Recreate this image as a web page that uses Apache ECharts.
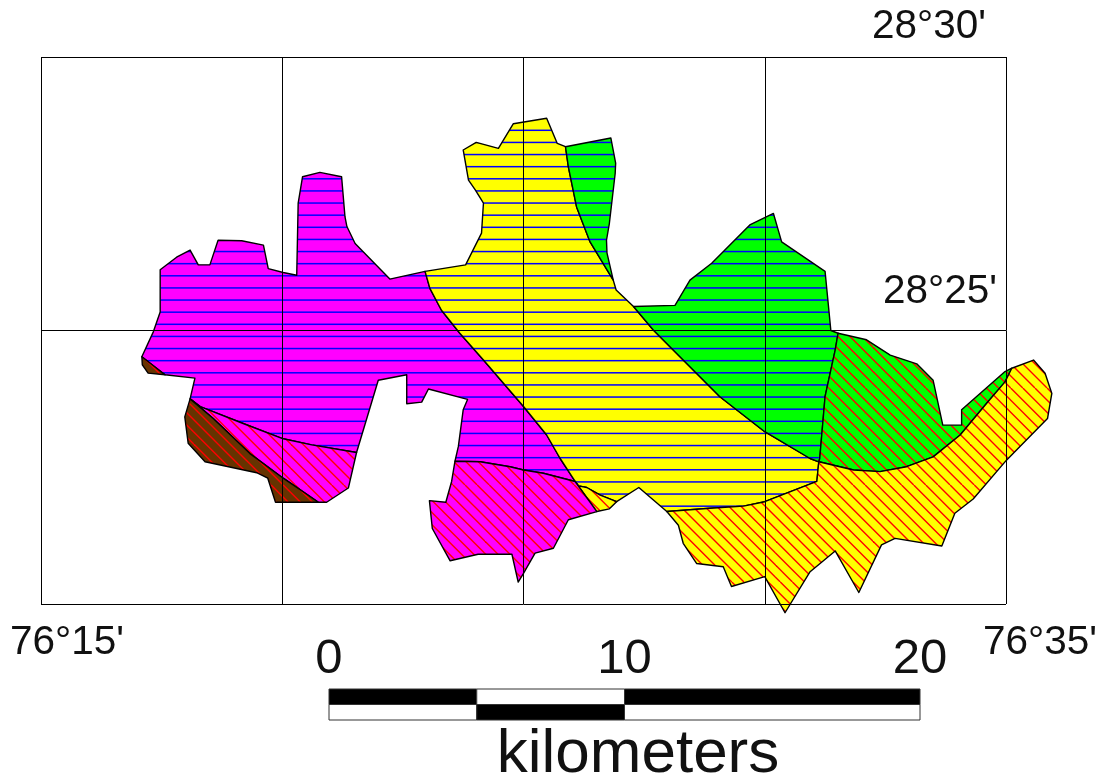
<!DOCTYPE html>
<html>
<head>
<meta charset="utf-8">
<style>html,body{margin:0;padding:0;background:#fff}#c{width:1102px;height:784px}</style>
<script src="https://cdn.jsdelivr.net/npm/echarts@6/dist/echarts.min.js"></script>
</head>
<body>
<div id="c"></div>
<script>
// All map vertices are [longitude minutes past 76 deg, latitude minutes past 28 deg].
const magentaNorth = [[17.09,24.52],[17.33,24.98],[17.47,25.34],[17.47,26.11],[17.81,26.34],[18.09,26.47],[18.26,26.20],[18.50,26.20],[18.67,26.65],[19.16,26.64],[19.61,26.56],[19.71,26.13],[20.02,26.06],[20.30,26.01],[20.33,27.33],[20.42,27.81],[20.78,27.89],[21.23,27.81],[21.30,27.08],[21.34,26.90],[21.51,26.59],[22.23,25.94]];
const magentaYellow = [[22.96,26.08],[23.06,25.77],[23.30,25.37],[23.68,24.95],[24.17,24.46],[25.00,23.61],[25.48,23.09],[25.76,22.66],[26.07,22.24]];
const magentaSouthBoundary = [[25.41,22.39],[25.00,22.45],[24.72,22.51],[24.10,22.60],[23.58,22.61]];
const magentaNotch = [[23.65,22.88],[23.75,23.55],[23.84,23.74],[23.03,23.93],[22.89,23.69],[22.58,23.66],[22.58,24.19],[21.99,24.09]];
const magentaWestBoundary = [[21.54,22.77],[20.61,22.91],[20.02,23.02],[19.19,23.30],[18.30,23.61],[18.09,23.75]];
const magentaWestEnd = [[18.19,24.13],[17.57,24.19]];
const brownSliver = [[17.09,24.52],[17.57,24.19],[17.22,24.22],[17.10,24.37]];
const brownDiagonal = [[18.09,23.75],[18.57,23.39],[19.33,22.75],[20.02,22.30],[20.75,21.86]];
const brownOuter = [[19.86,21.86],[19.70,22.30],[19.47,22.40],[18.40,22.60],[18.05,22.94],[17.98,23.42]];
const hatchWestOuter = [[21.37,22.12],[20.92,21.86]];
const hatchSouthOuter = [[26.52,21.69],[25.93,21.54],[25.62,21.02],[25.24,20.93],[25.00,20.56],[24.89,20.40],[24.76,20.91],[24.06,20.91],[23.48,20.79],[23.11,21.38],[23.05,21.89],[23.39,21.86],[23.51,22.24]];
const smallYellowTop = [[26.14,22.16],[26.31,22.13],[26.59,21.99],[26.93,21.87]];
const smallYellowBottom = [[26.78,21.74],[26.52,21.69]];
const yellowTop = [[23.80,26.20],[24.13,26.78],[24.17,27.33],[24.00,27.57],[23.86,27.75],[23.75,28.30],[24.02,28.44],[24.48,28.33],[24.79,28.78],[25.48,28.88],[25.70,28.42],[25.87,28.36]];
const yellowGreenNorth = [[25.93,27.99],[26.10,27.26],[26.38,26.62],[26.86,25.92]];
const yellowGreenEast = [[26.92,25.74],[27.28,25.44],[27.69,25.01],[28.31,24.46],[29.07,23.79],[30.00,23.15],[30.94,22.66],[31.12,22.60]];
const yellowSouth = [[31.08,22.24],[30.00,21.87],[29.56,21.79],[28.87,21.75],[27.97,21.69]];
const yellowGap = [[27.39,22.13]];
const greenNorthOuter = [[26.81,28.52],[26.91,28.06],[26.90,27.87],[26.78,26.96],[26.72,26.65],[26.73,26.42]];
const greenEastOuter = [[28.14,25.46],[28.45,25.92],[28.90,26.23],[29.69,26.93],[30.18,27.14],[30.35,26.62],[31.25,26.08],[31.37,25.00],[31.52,24.95]];
const greenBoundary = [[31.46,24.64],[31.25,23.79],[31.14,22.66]];
const greenHatchOuter = [[32.11,24.83],[32.60,24.55],[33.15,24.39],[33.49,24.09],[33.69,23.27],[34.08,23.27],[34.08,23.55],[34.98,24.25],[35.12,24.31]];
const greenHatchSouth = [[34.98,24.06],[34.60,23.67],[34.05,23.09],[33.49,22.69],[32.94,22.51],[32.39,22.42],[31.84,22.45]];
const goldOuter = [[35.57,24.46],[35.81,24.22],[35.95,23.85],[35.86,23.39],[35.01,22.63],[34.32,21.92],[33.94,21.66],[33.67,21.06],[32.70,21.20],[32.42,21.08],[31.95,20.21],[31.46,20.97],[30.94,20.59],[30.42,19.84],[30.00,20.50],[29.31,20.32],[29.14,20.68],[28.59,20.74],[28.31,21.11],[28.21,21.44]];

const rev = a => a.slice().reverse();
const last = a => a[a.length - 1];

const zones = [
  {name:'magenta lines', fill:'#ff00ff', hatch:'h', pts:[...magentaNorth,...magentaYellow,...magentaSouthBoundary,...magentaNotch,...magentaWestBoundary,...magentaWestEnd]},
  {name:'yellow lines', fill:'#ffff00', hatch:'h', pts:[magentaYellow[0],...yellowTop,...yellowGreenNorth,...yellowGreenEast,...yellowSouth,...yellowGap,last(smallYellowTop),...rev(smallYellowTop).slice(1),last(magentaYellow),...rev(magentaYellow).slice(1)]},
  {name:'green north', fill:'#00ff00', hatch:'h', pts:[last(yellowTop),...greenNorthOuter,...rev(yellowGreenNorth)]},
  {name:'green east', fill:'#00ff00', hatch:'h', pts:[yellowGreenEast[1],...greenEastOuter,...greenBoundary,...rev(yellowGreenEast).slice(0,-1)]},
  {name:'green hatch', fill:'#00ff00', hatch:'d', pts:[last(greenEastOuter),...greenHatchOuter,...greenHatchSouth,last(yellowGreenEast),...rev(greenBoundary)]},
  {name:'gold hatch', fill:'#ffff00', hatch:'d', pts:[last(greenHatchOuter),...goldOuter,...rev(yellowSouth),last(yellowGreenEast),...rev(greenHatchSouth)]},
  {name:'small yellow hatch', fill:'#ffff00', hatch:'d', pts:[last(magentaYellow),...smallYellowTop,...smallYellowBottom]},
  {name:'magenta hatch west', fill:'#ff00ff', hatch:'d', pts:[...rev(magentaWestBoundary),...hatchWestOuter,...rev(brownDiagonal)]},
  {name:'magenta hatch south', fill:'#ff00ff', hatch:'d', pts:[last(magentaYellow),...smallYellowBottom.slice(1),...hatchSouthOuter.slice(1),last(magentaSouthBoundary),...rev(magentaSouthBoundary).slice(1)]},
  {name:'brown hatch', fill:'#663300', hatch:'d', pts:[...brownDiagonal,...brownOuter]},
  {name:'brown sliver', fill:'#663300', hatch:'d', pts:brownSliver}
];

const latLabels = ["28°30'","28°25'"];
const lonLabels = ["76°15'","76°35'"];
const scaleTicks = ['0','10','20'];
const scaleUpper = [[0,5,'#000'],[5,10,'#fff'],[10,20,'#000']];
const scaleLower = [[0,5,'#fff'],[5,10,'#000'],[10,20,'#fff']];
const scaleUnit = 'kilometers';

const FONT = '"Liberation Sans", Arial, sans-serif';
const period = 12.125, linePhase = 9.05, diagPhase = 4.3, tileSize = 97;

function lineTile(bg){
  const c = document.createElement('canvas');
  c.width = 4; c.height = tileSize;
  const g = c.getContext('2d');
  g.fillStyle = bg; g.fillRect(0,0,c.width,c.height);
  g.strokeStyle = '#0000ff'; g.lineWidth = 1.5;
  for (let k = 0; k < 8; k++){
    const y = linePhase + k * period;
    g.beginPath(); g.moveTo(0,y); g.lineTo(4,y); g.stroke();
  }
  return c;
}
function diagTile(bg){
  const c = document.createElement('canvas');
  c.width = c.height = tileSize;
  const g = c.getContext('2d');
  g.fillStyle = bg; g.fillRect(0,0,c.width,c.height);
  g.strokeStyle = '#ff0000'; g.lineWidth = 1.4;
  for (let k = -9; k <= 9; k++){
    const o = k * period + diagPhase;
    g.beginPath(); g.moveTo(o,0); g.lineTo(o+tileSize,tileSize); g.stroke();
  }
  return c;
}
const tiles = {};
function tile(z){
  const key = z.fill + z.hatch;
  if (!tiles[key]) tiles[key] = {image: z.hatch === 'h' ? lineTile(z.fill) : diagTile(z.fill), repeat:'repeat'};
  return tiles[key];
}

const zoneSeries = zones.map(z => ({
  type:'custom', name:z.name, coordinateSystem:'cartesian2d', xAxisIndex:0, yAxisIndex:0,
  z:2, silent:true, animation:false, clip:false,
  data:[[0,0]],
  renderItem:(p,api) => ({
    type:'polygon',
    shape:{points:z.pts.map(q => api.coord(q))},
    style:{fill:tile(z), stroke:'#000', lineWidth:1.4, lineJoin:'round'}
  })
}));

function scaleSeries(rows,y0,y1){
  return {
    type:'custom', coordinateSystem:'cartesian2d', xAxisIndex:1, yAxisIndex:1, z:2, silent:true, animation:false,
    data:rows.map(r => [r[0],r[1]]),
    renderItem:(p,api) => {
      const a = api.coord([api.value(0),y1]), b = api.coord([api.value(1),y0]);
      return {type:'rect', shape:{x:a[0],y:a[1],width:b[0]-a[0],height:b[1]-a[1]},
        style:{fill:rows[p.dataIndex][2], stroke:'#333', lineWidth:1}};
    }
  };
}

const txt = (s,x,y,size,al) => ({type:'text', x, y, silent:true, z:10,
  style:{text:s, fill:'#111', font:size+'px '+FONT, textAlign:al||'left', textVerticalAlign:'middle'}});

const chart = echarts.init(document.getElementById('c'), null, {renderer:'canvas', width:1102, height:784});
chart.setOption({
  animation:false,
  backgroundColor:'#fff',
  grid:[
    {left:41, top:57, width:965, height:547, show:false},
    {left:329, top:689, width:591, height:31, show:false}
  ],
  xAxis:[
    {gridIndex:0, type:'value', min:15, max:35, interval:5, z:5,
      axisLine:{show:false}, axisTick:{show:false}, axisLabel:{show:false},
      splitLine:{show:true, showMinLine:true, showMaxLine:true, lineStyle:{color:'#000', width:1}}},
    {gridIndex:1, type:'value', min:0, max:20, interval:10, position:'top',
      axisLine:{show:false}, axisTick:{show:false}, splitLine:{show:false},
      axisLabel:{show:true, color:'#111', fontSize:49, fontFamily:FONT, margin:5,
        formatter:v => scaleTicks[v/10]}}
  ],
  yAxis:[
    {gridIndex:0, type:'value', min:20, max:30, interval:5, z:5,
      axisLine:{show:false}, axisTick:{show:false}, axisLabel:{show:false},
      splitLine:{show:true, showMinLine:true, showMaxLine:true, lineStyle:{color:'#000', width:1}}},
    {gridIndex:1, type:'value', min:0, max:2, show:false}
  ],
  series:[...zoneSeries, scaleSeries(scaleUpper,1,2), scaleSeries(scaleLower,0,1)],
  graphic:[
    txt(latLabels[0],872,27,40.5),
    txt(latLabels[1],883,292,40.5),
    txt(lonLabels[0],10,643,40.5),
    txt(lonLabels[1],983,643,40.5),
    txt(scaleUnit,638,755,62,'center')
  ]
});
</script>
</body>
</html>
